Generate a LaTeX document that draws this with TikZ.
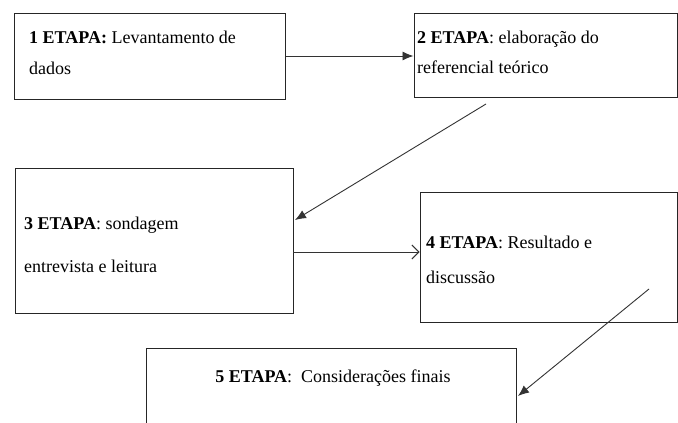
\documentclass[tikz,border=0pt]{standalone}
\usepackage{fontspec}
\setmainfont{LiberationSerif}[Extension=.ttf,UprightFont=*-Regular,BoldFont=*-Bold,ItalicFont=*-Italic,BoldItalicFont=*-BoldItalic]
\usetikzlibrary{arrows.meta}
\begin{document}
\begin{tikzpicture}[x=1pt,y=-1pt,
  box/.style={draw=black!85,line width=1pt,rectangle,inner sep=0pt},
  txt/.style={anchor=base west,inner sep=0pt,font=\fontsize{18}{21}\selectfont},
  conn/.style={draw=black!80,line width=0.9pt},
  filled/.style={conn,-{Latex[length=11pt,width=9pt]}},
  openarr/.style={conn,-{Straight Barb[length=7pt,width=14pt]}}]
\clip (0,0) rectangle (678,423);
\fill[white] (0,0) rectangle (678,423);
% boxes
\node[box,minimum width=271pt,minimum height=86pt] (b1) at (149.5,56) {};
\node[box,minimum width=263pt,minimum height=84pt] (b2) at (545.5,55) {};
\node[box,minimum width=278pt,minimum height=145pt] (b3) at (154,240.5) {};
\node[box,minimum width=257pt,minimum height=130pt] (b4) at (548.5,257) {};
\coordinate (b5nw) at (146,348);
\coordinate (b5ne) at (516,348);
\draw[draw=black!85,line width=1pt] (146,430) -- (b5nw) -- (b5ne) -- (516,430);
% texts
\node[txt] (t1a) at (29,43) {\textbf{1 ETAPA:} Levantamento de};
\node[txt] (t1b) at (29,74) {dados};
\node[txt] (t2a) at (417,43) {\textbf{2 ETAPA}: elaboração do};
\node[txt] (t2b) at (417,73) {referencial teórico};
\node[txt] (t3a) at (24,229) {\textbf{3 ETAPA}: sondagem};
\node[txt] (t3b) at (24,272) {entrevista e leitura};
\node[txt] (t4a) at (426,248) {\textbf{4 ETAPA}: Resultado e};
\node[txt] (t4b) at (426,283) {discussão};
\node[anchor=base,inner sep=0pt,font=\fontsize{18}{21}\selectfont] (t5) at (333,382) {\textbf{5 ETAPA}:\ \ Considerações finais};
% connectors
\draw[filled] (b1.east) -- (b1.east -| b2.west);
\coordinate (s23) at (486,104);
\coordinate (e23) at (295,220);
\draw[filled] (s23) -- (e23);
\coordinate (s34) at (293,252);
\draw[openarr] (s34) -- (s34 -| b4.west);
\coordinate (s45) at (649,289);
\coordinate (e45) at (518,396);
\draw[filled] (s45) -- (e45);
\end{tikzpicture}
\end{document}
